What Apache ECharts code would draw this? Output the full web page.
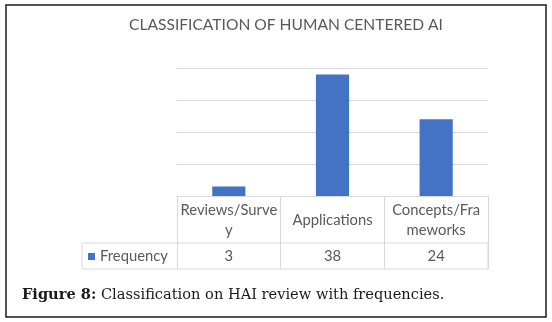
<!DOCTYPE html>
<html>
<head>
<meta charset="utf-8">
<script src="https://cdn.jsdelivr.net/npm/echarts@6/dist/echarts.min.js"></script>
<style>html,body{margin:0;padding:0;background:#fff;}#c{width:552px;height:322px;}</style>
</head>
<body>
<div id="c"></div>
<script>
var titleText = 'CLASSIFICATION OF HUMAN CENTERED AI';
var categories = ['Reviews/Survey', 'Applications', 'Concepts/Frameworks'];
var categoryLabels = ['Reviews/Surve\ny', 'Applications', 'Concepts/Fra\nmeworks'];
var seriesName = 'Frequency';
var frequency = [3, 38, 24];
var captionBold = 'Figure 8:';
var captionText = ' Classification on HAI review with frequencies.';

var gridColor = '#d9d9d9';
var textColor = '#595959';
var sansFont = 'Lato';

var chart = echarts.init(document.getElementById('c'), null, {renderer: 'canvas'});
chart.setOption({
  animation: false,
  backgroundColor: '#fff',
  title: {
    text: titleText,
    left: 129, top: 17, padding: 0,
    textStyle: {color: textColor, fontFamily: sansFont, fontWeight: 'normal', fontSize: 15.6}
  },
  legend: {
    data: [seriesName],
    left: 88, top: 249, padding: 0,
    icon: 'rect', itemWidth: 7, itemHeight: 7, itemGap: 6,
    textStyle: {color: textColor, fontFamily: sansFont, fontSize: 14.8, padding: [0,0,0,0]}
  },
  grid: {left: 177, right: 64, top: 68, bottom: 126, containLabel: false},
  xAxis: [{
    type: 'category',
    data: categories,
    position: 'bottom',
    axisLine: {show: true, lineStyle: {color: gridColor, width: 1}},
    axisTick: {show: true, interval: 0, length: 73, lineStyle: {color: gridColor, width: 1}},
    axisLabel: {
      interval: 0, hideOverlap: false,
      margin: 24, verticalAlign: 'middle', lineHeight: 20,
      color: textColor, fontFamily: sansFont, fontSize: 14.8,
      formatter: function (v, i) { return categoryLabels[i]; }
    }
  }, {
    type: 'category',
    data: categories,
    position: 'bottom',
    offset: 47,
    axisLine: {show: false},
    axisTick: {show: false},
    axisLabel: {
      interval: 0, hideOverlap: false,
      margin: 13, verticalAlign: 'middle',
      color: textColor, fontFamily: sansFont, fontSize: 14.8,
      formatter: function (v, i) { return String(frequency[i]); }
    }
  }],
  yAxis: {
    type: 'value', min: 0, max: 40, interval: 10,
    axisLine: {show: false}, axisTick: {show: false}, axisLabel: {show: false},
    splitLine: {lineStyle: {color: gridColor, width: 1}}
  },
  series: [{
    name: seriesName,
    type: 'bar',
    data: frequency,
    barWidth: '32%',
    itemStyle: {color: '#4472c4'}
  }],
  graphic: [
    {type: 'rect', shape: {x: 6, y: 5, width: 540, height: 312}, style: {fill: 'none', stroke: '#1a1a1a', lineWidth: 1.5}, silent: true},
    {type: 'rect', shape: {x: 82, y: 243, width: 406, height: 26}, style: {fill: 'none', stroke: gridColor, lineWidth: 1}, silent: true},
    {type: 'text', left: 22, top: 288, style: {
      text: '{b|' + captionBold + '}{n|' + captionText + '}',
      rich: {
        b: {fontFamily: 'DejaVu Serif', fontWeight: 'bold', fontSize: 14.6, fill: '#1a1a1a'},
        n: {fontFamily: 'DejaVu Serif', fontSize: 14.6, fill: '#1a1a1a'}
      }
    }}
  ]
});
</script>
</body>
</html>
